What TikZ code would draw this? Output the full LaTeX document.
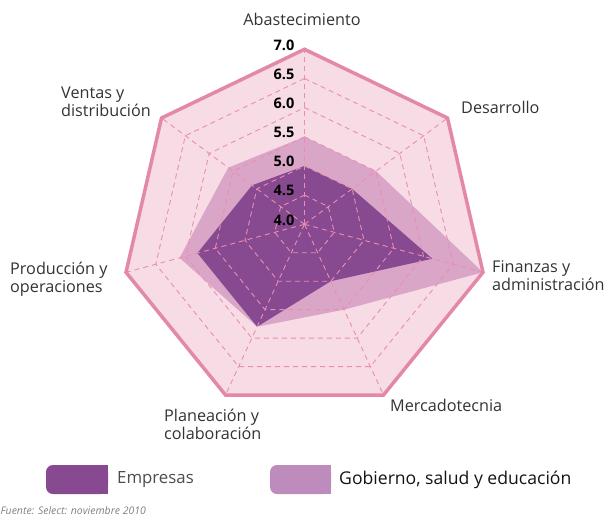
\documentclass[tikz,border=0pt]{standalone}
\usepackage{fontspec}
\setmainfont{Open Sans}
\usetikzlibrary{calc}
\definecolor{bgpink}{HTML}{F7DCE6}
\definecolor{rim}{HTML}{E488A8}
\definecolor{gridc}{HTML}{EB8DB0}
\definecolor{gob}{HTML}{D9A6C8}
\definecolor{emp}{HTML}{874A91}
\definecolor{gobleg}{HTML}{BE8BBD}
\definecolor{txt}{HTML}{333333}
\newcommand\rp[2]{($(C)!{(#2-4)/3}!(V#1)$)}
\begin{document}
\begin{tikzpicture}[x=1pt,y=-1pt,
  axislabel/.style={font=\fontsize{16.2}{18}\selectfont, text=txt, inner sep=0pt, align=left},
  ticklabel/.style={font=\bfseries\fontsize{14.5}{16}\selectfont, anchor=east, inner sep=0pt},
  gridline/.style={gridc, dash pattern=on 5pt off 4pt, line width=0.9pt},
  rimline/.style={rim, line width=3.5pt, line join=miter},
  legtext/.style={font=\fontsize{16.8}{18}\selectfont, anchor=west, inner sep=0pt},
]
\useasboundingbox (0,0) rectangle (606,517);
\coordinate (C) at (304.5,224.3);
\coordinate (V1) at (304.5,49.3);
\coordinate (V2) at (447.5,118);
\coordinate (V3) at (483,272.3);
\coordinate (V4) at (383.5,395);
\coordinate (V5) at (225.5,395);
\coordinate (V6) at (126,272.3);
\coordinate (V7) at (161.5,118);

% background
\fill[bgpink] (V1) -- (V2) -- (V3) -- (V4) -- (V5) -- (V6) -- (V7) -- cycle;
% Gobierno, salud y educacion
\fill[gob] \rp{1}{5.5} -- \rp{2}{5.5} -- \rp{3}{7} -- \rp{4}{5.5} -- \rp{5}{5.8} -- \rp{6}{6.1} -- \rp{7}{5.6} -- cycle;
% Empresas
\fill[emp] \rp{1}{5.0} -- \rp{2}{5.0} -- \rp{3}{6.15} -- \rp{4}{5.0} -- \rp{5}{5.8} -- \rp{6}{5.8} -- \rp{7}{5.1} -- cycle;
% grid
\foreach \v in {4.5,5,5.5,6,6.5}{
  \draw[gridline] \rp{1}{\v} -- \rp{2}{\v} -- \rp{3}{\v} -- \rp{4}{\v} -- \rp{5}{\v} -- \rp{6}{\v} -- \rp{7}{\v} -- cycle;
}
\foreach \k in {1,...,7}{
  \draw[gridline] (C) -- (V\k);
}
\draw[rimline] (V1) -- (V2) -- (V3) -- (V4) -- (V5) -- (V6) -- (V7) -- cycle;

% tick labels
\node[ticklabel] (t70) at (294.5,45.5) {7.0};
\node[ticklabel] (t65) at (294.5,74.7) {6.5};
\node[ticklabel] (t60) at (294.5,103.5) {6.0};
\node[ticklabel] (t55) at (294.5,132.3) {5.5};
\node[ticklabel] (t50) at (294.5,161) {5.0};
\node[ticklabel] (t45) at (294.5,190) {4.5};
\node[ticklabel] (t40) at (294.5,220) {4.0};

% axis labels
\node[axislabel, anchor=center] (l1) at (302,19) {Abastecimiento};
\node[axislabel, anchor=west] (l2) at (461,107) {Desarrollo};
\node[axislabel, anchor=west] (l3) at (492,276) {Finanzas y\\administración};
\node[axislabel, anchor=west] (l4) at (390,405) {Mercadotecnia};
\node[axislabel, anchor=west] (l5) at (164,424) {Planeación y\\colaboración};
\node[axislabel, anchor=west] (l6) at (10,279) {Producción y\\operaciones};
\node[axislabel, anchor=west] (l7) at (61,102) {Ventas y\\distribución};

% legend
\fill[emp, rounded corners=7pt] (46,465) rectangle (108,494);
\fill[emp] (80,465) rectangle (108,494);
\node[legtext, text=black!70] (le) at (117,480) {Empresas};
\fill[gobleg, rounded corners=7pt] (270,465) rectangle (331,494);
\fill[gobleg] (300,465) rectangle (331,494);
\node[legtext, text=black!92, font=\fontsize{17.6}{19}\selectfont] (lg) at (339,480) {Gobierno, salud y educación};

\node[anchor=west, inner sep=0pt, font=\itshape\fontsize{10.5}{12}\selectfont, text=black!50] (src) at (0.5,511) {Fuente: Select: noviembre 2010};
\end{tikzpicture}
\end{document}
